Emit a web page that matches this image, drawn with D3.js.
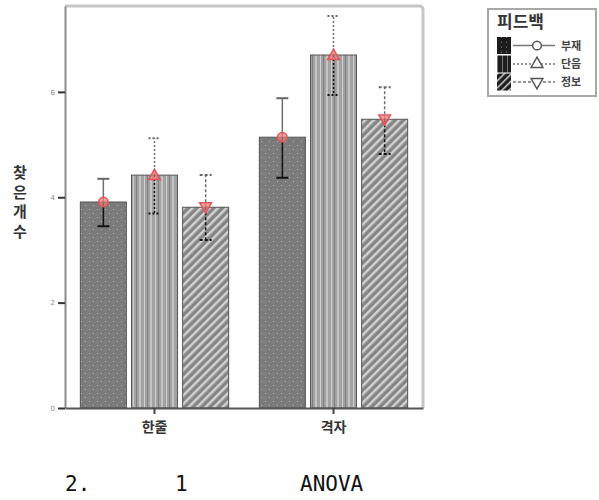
<!DOCTYPE html>
<html lang="ko">
<head>
<meta charset="UTF-8">
<title>찾은개수</title>
<script src="https://cdnjs.cloudflare.com/ajax/libs/d3/7.8.5/d3.min.js"></script>
<style>
  body { margin: 0; background: #fff; }
  svg { display: block; }
  .kr { font-family: "Noto Sans CJK KR", "Noto Sans", sans-serif; }
</style>
</head>
<body>
<div id="chart"></div>
<script>
// data
const categories = ["한줄", "격자"];
const series = ["부재", "단음", "정보"];
const means = [[3.91, 4.42, 3.81], [5.14, 6.70, 5.48]];
const upper = [[4.35, 5.12, 4.42], [5.88, 7.44, 6.09]];
const lower = [[3.45, 3.69, 3.19], [4.37, 5.94, 4.82]];
const yTicks = [0, 2, 4, 6];
const legendTitle = "피드백";
const yTitle = "찾은개수";
const captionParts = [["2.", 65], ["1", 175], ["ANOVA", 300]];

const width = 599, height = 500;
const svg = d3.select("#chart").append("svg")
    .attr("width", width).attr("height", height);

const defs = svg.append("defs");

// bar patterns
const p1 = defs.append("pattern").attr("id", "dots").attr("patternUnits", "userSpaceOnUse")
    .attr("width", 8).attr("height", 8);
p1.append("rect").attr("width", 8).attr("height", 8).attr("fill", "#7b7b7b");
p1.append("rect").attr("x", 1).attr("y", 1).attr("width", 1).attr("height", 1).attr("fill", "#b4b4b4");
p1.append("rect").attr("x", 5).attr("y", 5).attr("width", 1).attr("height", 1).attr("fill", "#b4b4b4");

const p2 = defs.append("pattern").attr("id", "vstripe").attr("patternUnits", "userSpaceOnUse")
    .attr("width", 11).attr("height", 4);
p2.append("rect").attr("width", 11).attr("height", 4).attr("fill", "#a2a2a2");
p2.append("rect").attr("x", 1).attr("width", 1).attr("height", 4).attr("fill", "#cfcfcf");
p2.append("rect").attr("x", 4).attr("width", 1).attr("height", 4).attr("fill", "#7e7e7e");
p2.append("rect").attr("x", 7).attr("width", 2).attr("height", 4).attr("fill", "#c4c4c4");

const p3 = defs.append("pattern").attr("id", "diag").attr("patternUnits", "userSpaceOnUse")
    .attr("width", 6).attr("height", 6).attr("patternTransform", "rotate(45)");
p3.append("rect").attr("width", 6).attr("height", 6).attr("fill", "#858585");
p3.append("rect").attr("width", 2.5).attr("height", 6).attr("fill", "#d2d2d2");

// darker versions for legend swatches
const l1 = defs.append("pattern").attr("id", "ldots").attr("patternUnits", "userSpaceOnUse")
    .attr("width", 5).attr("height", 5);
l1.append("rect").attr("width", 5).attr("height", 5).attr("fill", "#1c1c1c");
l1.append("rect").attr("x", 1).attr("y", 1).attr("width", 1).attr("height", 1).attr("fill", "#8a8a8a");
const l2 = defs.append("pattern").attr("id", "lvstripe").attr("patternUnits", "userSpaceOnUse")
    .attr("width", 5).attr("height", 4);
l2.append("rect").attr("width", 5).attr("height", 4).attr("fill", "#1c1c1c");
l2.append("rect").attr("x", 2).attr("width", 1).attr("height", 4).attr("fill", "#777");
const l3 = defs.append("pattern").attr("id", "ldiag").attr("patternUnits", "userSpaceOnUse")
    .attr("width", 5).attr("height", 5).attr("patternTransform", "rotate(45)");
l3.append("rect").attr("width", 5).attr("height", 5).attr("fill", "#1c1c1c");
l3.append("rect").attr("width", 1.5).attr("height", 5).attr("fill", "#cfcfcf");

const fills = ["url(#dots)", "url(#vstripe)", "url(#diag)"];
const legendFills = ["url(#ldots)", "url(#lvstripe)", "url(#ldiag)"];
const dashes = [null, "2,2", "3,2"];
const symbols = [d3.symbolCircle, d3.symbolTriangle, d3.symbolTriangle];
const rotations = [0, 0, 180];

// scales
const plot = { left: 65, right: 423, top: 6, bottom: 408 };
const x0 = d3.scaleBand().domain(categories).range([plot.left, plot.right]);
const x1 = d3.scaleBand().domain(series).range([0, x0.bandwidth()])
    .paddingInner(0.1).paddingOuter(0.3);
const y = d3.scaleLinear().domain([0, 7.63]).range([plot.bottom, plot.top]);

// frame (top + right, light gray, rounded corner)
svg.append("path")
    .attr("d", `M${plot.left},${plot.top} H${plot.right - 4} Q${plot.right},${plot.top} ${plot.right},${plot.top + 4} V${plot.bottom}`)
    .attr("fill", "none").attr("stroke", "#c6c6c6").attr("stroke-width", 3);

// rows of data
const rows = [];
categories.forEach((c, i) => series.forEach((s, j) => rows.push({
    cat: c, ser: s, j: j, mean: means[i][j], hi: upper[i][j], lo: lower[i][j]
})));

const cx = d => x0(d.cat) + x1(d.ser) + x1.bandwidth() / 2;

// bars
svg.append("g").selectAll("rect").data(rows).join("rect")
    .attr("x", d => x0(d.cat) + x1(d.ser))
    .attr("y", d => y(d.mean))
    .attr("width", x1.bandwidth())
    .attr("height", d => y(0) - y(d.mean))
    .attr("fill", d => fills[d.j])
    .attr("stroke", "#555").attr("stroke-width", 1);

// error bars
const eb = svg.append("g").selectAll("g").data(rows).join("g");
eb.append("line")
    .attr("x1", cx).attr("x2", cx)
    .attr("y1", d => y(d.mean)).attr("y2", d => y(d.hi))
    .attr("stroke", "#6e6e6e").attr("stroke-width", 1.5)
    .attr("stroke-dasharray", d => dashes[d.j]);
eb.append("line")
    .attr("x1", cx).attr("x2", cx)
    .attr("y1", d => y(d.mean)).attr("y2", d => y(d.lo))
    .attr("stroke", "#111").attr("stroke-width", 1.5)
    .attr("stroke-dasharray", d => dashes[d.j]);
eb.append("line")
    .attr("x1", d => cx(d) - 6).attr("x2", d => cx(d) + 6)
    .attr("y1", d => y(d.hi)).attr("y2", d => y(d.hi))
    .attr("stroke", "#666").attr("stroke-width", 2)
    .attr("stroke-dasharray", d => dashes[d.j]);
eb.append("line")
    .attr("x1", d => cx(d) - 6).attr("x2", d => cx(d) + 6)
    .attr("y1", d => y(d.lo)).attr("y2", d => y(d.lo))
    .attr("stroke", "#111").attr("stroke-width", 2)
    .attr("stroke-dasharray", d => dashes[d.j]);

// mean markers
svg.append("g").selectAll("path").data(rows).join("path")
    .attr("d", d => d3.symbol(symbols[d.j], d.j === 0 ? 70 : 60)())
    .attr("transform", d => `translate(${cx(d)},${y(d.mean) + (d.j === 1 ? 1 : d.j === 2 ? -1 : 0)}) rotate(${rotations[d.j]})`)
    .attr("fill", "rgba(238,120,120,0.7)")
    .attr("stroke", "#e25555").attr("stroke-width", 1.5);

// y axis
const yAxis = svg.append("g")
    .attr("transform", `translate(${plot.left},0)`)
    .call(d3.axisLeft(y).tickValues(yTicks).tickSize(7).tickSizeOuter(0));
yAxis.select(".domain").attr("stroke", "#8a8a8a").attr("stroke-width", 2);
yAxis.selectAll(".tick line").attr("stroke", "#333").attr("stroke-width", 2);
yAxis.selectAll(".tick text").attr("fill", "#888").attr("font-size", 7)
    .attr("font-family", "DejaVu Sans").attr("x", -10);

// x axis
const xAxis = svg.append("g")
    .attr("transform", `translate(0,${plot.bottom})`)
    .call(d3.axisBottom(x0).tickSize(6).tickSizeOuter(0));
xAxis.select(".domain").attr("stroke", "#555").attr("stroke-width", 2);
xAxis.selectAll(".tick line").attr("stroke", "#444").attr("stroke-width", 2);
xAxis.selectAll(".tick text").attr("class", "kr").attr("font-size", 14)
    .attr("font-weight", "bold").attr("fill", "#333").attr("dy", "1.05em");

// y title, stacked characters
svg.append("g").selectAll("text").data(Array.from(yTitle)).join("text")
    .attr("class", "kr")
    .attr("x", 20).attr("y", (d, i) => 178 + i * 19.5)
    .attr("text-anchor", "middle").attr("font-size", 15).attr("font-weight", "bold")
    .attr("fill", "#333").text(d => d);

// legend
const lg = svg.append("g");
lg.append("rect").attr("x", 488).attr("y", 9).attr("width", 108).attr("height", 87)
    .attr("fill", "#fff").attr("stroke", "#a8a8a8").attr("stroke-width", 2);
lg.append("text").attr("class", "kr").attr("x", 497).attr("y", 28)
    .attr("font-size", 17).attr("font-weight", "bold").attr("fill", "#333").text(legendTitle);
const rowY = [45.5, 64, 82];
const li = lg.selectAll("g.item").data(series).join("g").attr("class", "item")
    .attr("transform", (d, i) => `translate(0,${rowY[i]})`);
li.append("rect").attr("x", 497).attr("y", -8.5).attr("width", 14).attr("height", 17)
    .attr("fill", (d, i) => legendFills[i]);
li.append("line").attr("x1", 513).attr("x2", 555).attr("y1", 0).attr("y2", 0)
    .attr("stroke", "#777").attr("stroke-width", 1.5)
    .attr("stroke-dasharray", (d, i) => dashes[i]);
li.append("path")
    .attr("d", (d, i) => d3.symbol(symbols[i], 60)())
    .attr("transform", (d, i) => `translate(537,0) rotate(${rotations[i]})`)
    .attr("fill", "#fff").attr("stroke", "#555").attr("stroke-width", 1.5);
li.append("text").attr("class", "kr").attr("x", 561).attr("y", 4)
    .attr("font-size", 11).attr("font-weight", "bold").attr("fill", "#444").text(d => d);

// caption under the chart
svg.append("g").selectAll("text").data(captionParts).join("text")
    .attr("x", d => d[1]).attr("y", 491)
    .attr("font-family", "DejaVu Sans Mono").attr("font-size", 21).attr("fill", "#111")
    .text(d => d[0]);
</script>
</body>
</html>
